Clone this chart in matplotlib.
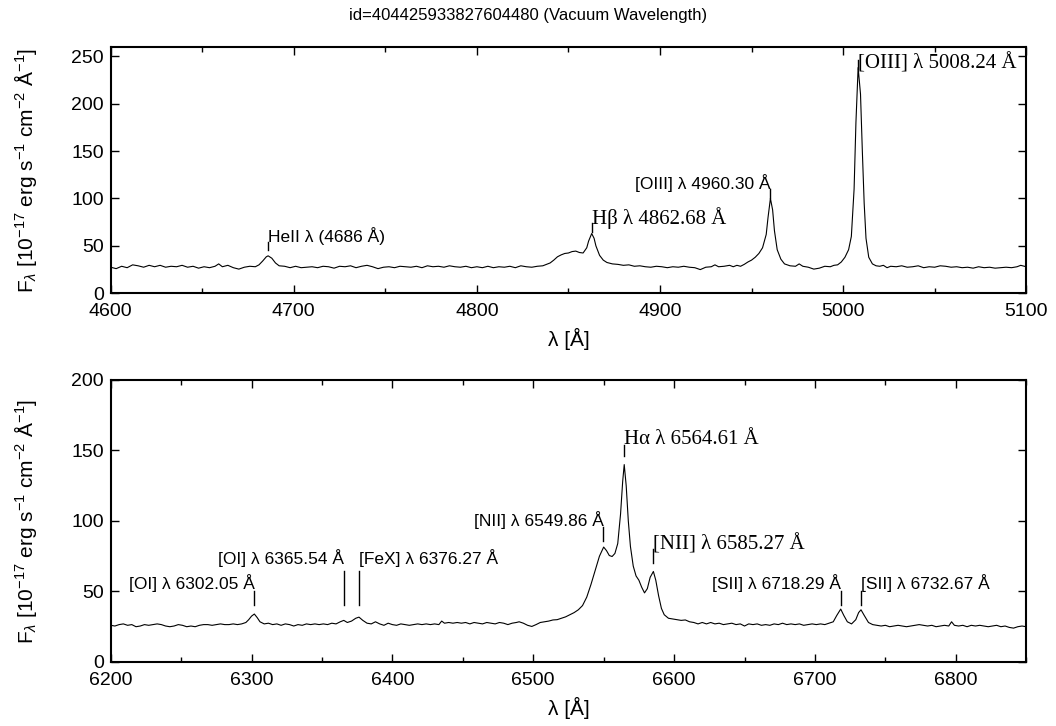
import matplotlib
matplotlib.use('Agg')
import matplotlib.pyplot as plt
from matplotlib.ticker import MultipleLocator

plt.rcParams['font.family'] = ['Liberation Sans', 'DejaVu Sans']
plt.rcParams['mathtext.fontset'] = 'custom'
plt.rcParams['mathtext.rm'] = 'Liberation Sans'
plt.rcParams['mathtext.it'] = 'Liberation Sans:italic'

TITLE = 'id=404425933827604480 (Vacuum Wavelength)'
XLABEL = 'λ [Å]'
YLABEL = r'F$_\lambda$ [10$^{-17}$ erg s$^{-1}$ cm$^{-2}$ Å$^{-1}$]'

# blue part of the spectrum (Hβ / [OIII] region)
blue_wave = [
    4600, 4603, 4606, 4609, 4612, 4615, 4618, 4621, 4624, 4627, 4630, 4633, 4636, 4639, 4642,
    4645, 4648, 4651, 4654, 4657, 4659, 4661, 4664, 4667, 4670, 4673, 4676, 4679, 4681, 4683,
    4685, 4686, 4688, 4690, 4692, 4695, 4698, 4701, 4704, 4707, 4710, 4713, 4716, 4719, 4722,
    4725, 4728, 4731, 4734, 4737, 4740, 4743, 4746, 4749, 4752, 4755, 4758, 4761, 4764, 4767,
    4770, 4773, 4776, 4779, 4782, 4785, 4788, 4791, 4794, 4797, 4800, 4803, 4806, 4809, 4812,
    4815, 4818, 4821, 4824, 4827, 4830, 4833, 4836, 4838, 4840, 4842, 4844, 4846, 4848, 4850,
    4852, 4854, 4856, 4858, 4860, 4861, 4862.7, 4864, 4865, 4867, 4869, 4871, 4874, 4877, 4880,
    4883, 4886, 4889, 4892, 4895, 4898, 4901, 4904, 4907, 4910, 4913, 4916, 4919, 4922, 4925,
    4928, 4930, 4932, 4935, 4938, 4940, 4942, 4944, 4946, 4948, 4950, 4952, 4954, 4956, 4958,
    4959, 4960.3, 4961.5, 4962.5, 4964, 4966, 4968, 4971, 4974, 4976, 4978, 4981, 4984, 4987, 4990,
    4993, 4995, 4997, 4999, 5001, 5003, 5004.5, 5006, 5007, 5008.2, 5009.5, 5010.5, 5011.5, 5012.5, 5014,
    5016, 5018, 5020, 5022, 5024, 5026, 5029, 5032, 5035, 5038, 5041, 5044, 5047, 5050, 5053,
    5056, 5059, 5062, 5065, 5068, 5071, 5074, 5077, 5080, 5083, 5086, 5089, 5092, 5095, 5097,
    5100,
]
blue_flux = [
    27.5, 26.0, 28.5, 27.0, 30.0, 29.0, 27.5, 29.5, 28.0, 29.5, 27.5, 28.5, 28.0, 29.5, 27.5,
    28.5, 26.5, 28.0, 27.0, 28.5, 31.0, 28.0, 29.5, 27.0, 25.5, 27.5, 28.5, 28.0, 30.0, 34.0,
    38.5, 39.5, 37.0, 32.0, 29.0, 28.5, 27.0, 28.5, 27.0, 27.5, 28.0, 27.0, 28.5, 28.0, 26.5,
    28.5, 28.0, 29.0, 27.0, 28.5, 29.5, 28.0, 26.0, 27.5, 28.0, 27.0, 28.5, 28.0, 27.5, 28.5,
    27.0, 29.0, 28.0, 28.5, 27.5, 29.0, 28.0, 27.5, 28.5, 27.0, 28.0, 27.0, 28.5, 27.0, 28.0,
    27.5, 28.5, 27.0, 29.0, 28.0, 27.5, 28.5, 29.0, 30.5, 32.0, 35.0, 38.5, 40.5, 42.0, 42.5,
    44.0, 44.5, 43.0, 42.5, 48.0, 55.0, 63.0, 58.0, 50.0, 40.0, 35.0, 32.5, 31.0, 30.5, 29.5,
    30.0, 28.5, 29.0, 28.0, 27.5, 28.5, 28.0, 27.0, 28.0, 27.5, 28.5, 27.5, 27.0, 25.0, 27.5,
    28.0, 30.0, 28.0, 28.5, 29.5, 28.0, 29.5, 28.5, 30.5, 33.0, 35.0, 38.0, 42.0, 48.0, 62.0,
    80.0, 100.0, 88.0, 66.0, 46.0, 36.0, 31.0, 29.0, 28.5, 31.0, 28.5, 27.5, 25.5, 26.5, 28.5,
    28.0, 29.5, 30.0, 33.0, 38.0, 46.0, 60.0, 110.0, 180.0, 238.0, 210.0, 150.0, 95.0, 58.0, 38.0,
    31.0, 29.0, 28.5, 29.5, 27.0, 28.5, 28.0, 29.0, 27.5, 28.0, 29.0, 27.0, 28.0, 27.5, 29.0,
    28.5, 27.5, 28.0, 27.0, 27.5, 26.5, 28.0, 27.0, 27.5, 26.5, 27.0, 27.5, 27.0, 28.0, 29.5,
    28.0,
]

# red part of the spectrum (Hα / [NII] / [SII] region)
red_wave = [
    6200, 6203, 6206, 6209, 6212, 6215, 6218, 6221, 6224, 6227, 6230, 6233, 6236, 6239, 6242,
    6245, 6248, 6251, 6254, 6257, 6260, 6263, 6266, 6269, 6272, 6275, 6278, 6281, 6284, 6287,
    6290, 6293, 6296, 6298, 6300, 6302, 6304, 6306, 6309, 6312, 6315, 6318, 6321, 6324, 6327,
    6330, 6333, 6336, 6339, 6342, 6345, 6348, 6351, 6354, 6357, 6360, 6363, 6365.5, 6368, 6371,
    6374, 6376.3, 6379, 6382, 6385, 6388, 6391, 6394, 6397, 6400, 6403, 6406, 6409, 6412, 6415,
    6418, 6421, 6424, 6427, 6430, 6433, 6435, 6437, 6440, 6443, 6446, 6449, 6452, 6455, 6458,
    6461, 6464, 6467, 6470, 6473, 6476, 6479, 6482, 6485, 6488, 6490, 6493, 6496, 6499, 6502,
    6505, 6508, 6511, 6514, 6517, 6520, 6523, 6526, 6529, 6532, 6535, 6538, 6541, 6544, 6547,
    6550, 6552, 6554, 6556, 6558, 6560, 6562, 6563.5, 6564.6, 6566, 6567.5, 6569, 6571, 6573, 6575,
    6577, 6579, 6581, 6583, 6585.3, 6587, 6589, 6591, 6593, 6596, 6599, 6602, 6605, 6608, 6611,
    6614, 6617, 6620, 6623, 6626, 6629, 6632, 6635, 6638, 6641, 6644, 6647, 6650, 6653, 6656,
    6659, 6662, 6665, 6668, 6671, 6674, 6677, 6680, 6683, 6686, 6689, 6692, 6695, 6698, 6701,
    6704, 6707, 6710, 6713, 6715.5, 6718.3, 6720.5, 6723, 6726, 6729, 6731, 6732.7, 6735, 6738, 6741,
    6744, 6747, 6750, 6753, 6756, 6759, 6762, 6765, 6768, 6771, 6774, 6777, 6780, 6783, 6786,
    6789, 6792, 6795, 6797, 6799, 6802, 6805, 6808, 6811, 6814, 6817, 6820, 6823, 6826, 6829,
    6832, 6835, 6838, 6841, 6844, 6847, 6850,
]
red_flux = [
    26.0, 25.5, 26.5, 27.0, 26.0, 26.5, 25.0, 25.5, 26.5, 26.0, 26.5, 27.0, 26.5, 25.5, 25.0,
    25.5, 26.5, 26.0, 25.0, 25.5, 25.0, 26.0, 26.5, 26.5, 26.0, 26.5, 27.0, 26.5, 26.5, 27.0,
    26.5, 27.0, 28.0, 30.0, 32.5, 34.0, 31.5, 28.5, 27.0, 27.5, 26.5, 27.0, 26.0, 27.0, 26.5,
    25.5, 26.5, 26.0, 27.0, 26.5, 27.0, 26.5, 27.0, 26.5, 27.5, 27.0, 28.5, 29.5, 28.0, 29.0,
    31.0, 31.8, 29.5, 27.5, 27.0, 28.5, 27.0, 26.0, 27.5, 26.5, 26.0, 27.0, 26.5, 26.0, 26.5,
    27.0, 26.5, 27.0, 26.5, 27.0, 26.5, 29.0, 27.5, 28.0, 27.5, 28.0, 27.5, 28.0, 27.0, 28.0,
    27.5, 27.0, 28.0, 27.5, 27.0, 28.0, 27.5, 26.5, 27.5, 28.0, 28.5, 27.5, 26.0, 25.2, 26.5,
    28.0, 28.5, 29.0, 29.8, 30.0, 31.0, 32.0, 33.5, 35.0, 37.0, 40.0, 46.0, 55.0, 65.0, 75.0,
    81.5, 79.0, 75.5, 74.8, 77.0, 84.0, 105.0, 128.0, 140.0, 125.0, 100.0, 82.0, 68.0, 61.0, 58.0,
    53.0, 49.0, 52.0, 60.0, 64.2, 58.0, 47.0, 38.0, 33.5, 31.0, 30.5, 30.0, 29.5, 29.8, 28.5,
    28.0, 27.0, 28.0, 27.0, 28.0, 27.0, 27.5, 26.5, 27.0, 27.5, 26.5, 27.0, 25.5, 27.0, 26.5,
    27.0, 26.0, 26.5, 26.0, 27.0, 26.5, 27.5, 26.5, 27.0, 26.5, 27.0, 26.0, 26.5, 27.0, 26.5,
    27.0, 26.5, 27.5, 28.5, 33.0, 37.5, 33.0, 28.5, 27.0, 30.0, 35.0, 37.0, 33.0, 28.0, 26.5,
    26.0, 25.5, 26.0, 25.0, 25.5, 26.0, 25.5, 25.0, 25.5, 26.0, 26.5, 26.0, 25.5, 26.0, 25.0,
    25.5, 26.0, 25.5, 28.5, 26.0, 25.5, 26.0, 25.0, 26.0, 25.5, 26.0, 25.5, 25.0, 25.5, 26.0,
    25.0, 25.5, 24.5, 24.0, 25.0, 25.5, 25.0,
]

# emission line identifications
blue_lines = [4686.0, 4862.68, 4960.30, 5008.24]
blue_names = ['HeII λ (4686 Å)', 'Hβ λ 4862.68 Å', '[OIII] λ 4960.30 Å', '[OIII] λ 5008.24 Å']
red_lines = [6302.05, 6365.54, 6376.27, 6549.86, 6564.61, 6585.27, 6718.29, 6732.67]
red_names = ['[OI] λ 6302.05 Å', '[OI] λ 6365.54 Å', '[FeX] λ 6376.27 Å', '[NII] λ 6549.86 Å',
             'Hα λ 6564.61 Å', '[NII] λ 6585.27 Å', '[SII] λ 6718.29 Å', '[SII] λ 6732.67 Å']

SANS = ['Liberation Sans', 'DejaVu Sans']
SERIF = ['Liberation Serif', 'DejaVu Serif']


def mark(ax, x, y0, y1, text, ty, ha='left', serif=False):
    # short vertical bar above the line plus its name
    ax.plot([x, x], [y0, y1], color='black', lw=1.0)
    if serif:
        ax.text(x, ty, text, ha=ha, va='baseline', fontsize=15, family=SERIF)
    else:
        ax.text(x, ty, text, ha=ha, va='baseline', fontsize=12.5, family=SANS)


def style(ax, xlim, ylim):
    ax.set_xlim(xlim)
    ax.set_ylim(ylim)
    ax.xaxis.set_major_locator(MultipleLocator(100))
    ax.xaxis.set_minor_locator(MultipleLocator(50))
    ax.yaxis.set_major_locator(MultipleLocator(50))
    ax.tick_params(which='both', direction='in', top=True, right=True, labelsize=14, width=1)
    ax.tick_params(which='major', length=6)
    ax.tick_params(which='minor', length=3.5)
    ax.tick_params(axis='x', which='both', pad=7)
    ax.tick_params(axis='y', which='both', pad=5)
    for s in ax.spines.values():
        s.set_linewidth(1.5)
    ax.set_xlabel(XLABEL, fontsize=15, labelpad=6)
    ax.set_ylabel(YLABEL, fontsize=15)
    ax.yaxis.set_label_coords(-0.078, 0.5)


fig = plt.figure(figsize=(10.56, 7.26), dpi=100)
ax1 = fig.add_axes([0.1048, 0.596, 0.867, 0.3397])
ax2 = fig.add_axes([0.1048, 0.0882, 0.867, 0.3884])

fig.text(0.5, 0.979, TITLE, ha='center', va='center', fontsize=12)

# --- upper panel ---
ax1.plot(blue_wave, blue_flux, color='black', lw=0.8)
style(ax1, (4600, 5100), (0, 260))
mark(ax1, blue_lines[0], 45.5, 54.5, blue_names[0], 54.5)
mark(ax1, blue_lines[1], 65, 74, blue_names[1], 73, serif=True)
mark(ax1, blue_lines[2], 101, 110, blue_names[2], 109.5, ha='right')
mark(ax1, blue_lines[3], 236, 246, blue_names[3], 236.5, serif=True)

# --- lower panel ---
ax2.plot(red_wave, red_flux, color='black', lw=0.8)
style(ax2, (6200, 6850), (0, 200))
mark(ax2, red_lines[0], 40.5, 50, red_names[0], 51.5, ha='right')
mark(ax2, red_lines[1], 40.5, 64.5, red_names[1], 69.5, ha='right')
mark(ax2, red_lines[2], 40.5, 64.5, red_names[2], 69.5)
mark(ax2, red_lines[3], 85.5, 96, red_names[3], 96.5, ha='right')
mark(ax2, red_lines[4], 146, 154, red_names[4], 154.5, serif=True)
mark(ax2, red_lines[5], 70.5, 80, red_names[5], 80, serif=True)
mark(ax2, red_lines[6], 40.5, 50, red_names[6], 51.5, ha='right')
mark(ax2, red_lines[7], 40.5, 50, red_names[7], 51.5)

fig.savefig('out.png', dpi=100)
